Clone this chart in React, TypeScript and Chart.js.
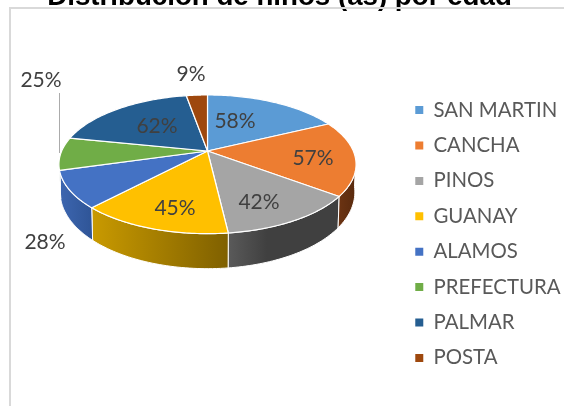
import React, { useEffect, useRef } from "react";
import { Chart, registerables } from "chart.js";

Chart.register(...registerables);

const categories = ["SAN MARTIN", "CANCHA", "PINOS", "GUANAY", "ALAMOS", "PREFECTURA", "PALMAR", "POSTA"];
const values = [58, 57, 42, 45, 28, 25, 62, 9];
const topColors = ["#5B9BD5", "#ED7D31", "#A5A5A5", "#FFC000", "#4472C4", "#70AD47", "#255E91", "#9E480E"];
const wallLeft = ["#3E74A6", "#6B3312", "#5A5A5A", "#C99A00", "#3D66B0", "#4F7D30", "#1C4770", "#6B300A"];
const wallRight = ["#2E5A85", "#592A0E", "#404040", "#7F6000", "#2F5597", "#3E6325", "#163858", "#542506"];
const labelAnchors: [number, number][] = [
  [235, 121], [313, 158], [259, 202], [175, 208], [45, 242], [41, 80], [157, 126], [191, 74],
];

const TITLE = "Distribución de niños (as) por edad";
const CX = 207.5, CY = 151, RX = 145.8, RY = 66.8, K = 0.192;

const project = (a: number, r = 1): [number, number] => {
  const c = Math.cos(a) * r, s = Math.sin(a) * r;
  const w = 1 - K * s;
  return [CX + (RX * c) / w, CY + (RY * s) / w];
};
const projectBase = (a: number): [number, number] => {
  const [x, y] = project(a);
  return [CX + (x - CX) * 0.992, y + 26 + 9 * Math.sin(a)];
};

const pie3d = {
  id: "pie3d",
  beforeDatasetDraw(chart: any) {
    const { ctx } = chart;
    const arcs = chart.getDatasetMeta(0).data;
    ctx.save();
    // frame
    ctx.strokeStyle = "#D9D9D9";
    ctx.lineWidth = 2;
    ctx.strokeRect(10, 8, 600, 500);
    // walls, from sides towards the front
    const order = arcs.map((_: any, i: number) => i);
    const visible = (a: number) => Math.sin(a) > 0.12;
    const leftSide = order.filter((i: number) => Math.cos((arcs[i].startAngle + arcs[i].endAngle) / 2) < 0);
    const rightSide = order.filter((i: number) => Math.cos((arcs[i].startAngle + arcs[i].endAngle) / 2) >= 0).reverse();
    const front = [...rightSide, ...leftSide];
    for (const i of front) {
      const el = arcs[i];
      const N = 40;
      const pts: number[] = [];
      for (let n = 0; n <= N; n++) {
        const a = el.startAngle + ((el.endAngle - el.startAngle) * n) / N;
        if (visible(a)) pts.push(a);
      }
      if (pts.length < 2) continue;
      ctx.beginPath();
      pts.forEach((a, n) => {
        const [x, y] = project(a);
        n ? ctx.lineTo(x, y) : ctx.moveTo(x, y);
      });
      [...pts].reverse().forEach((a) => {
        const [x, y] = projectBase(a);
        ctx.lineTo(x, y);
      });
      ctx.closePath();
      const xa = project(pts[0])[0], xb = project(pts[pts.length - 1])[0];
      const g = ctx.createLinearGradient(Math.min(xa, xb), 0, Math.max(xa, xb), 0);
      g.addColorStop(0, wallLeft[i]);
      g.addColorStop(i === 2 ? 0.35 : 1, wallRight[i]);
      g.addColorStop(1, wallRight[i]);
      ctx.fillStyle = g;
      ctx.fill();
      ctx.strokeStyle = "#FFFFFF";
      ctx.lineWidth = 1;
      ctx.lineJoin = "round";
      ctx.stroke();
    }
    // top faces
    for (const el of arcs) {
      const N = 60;
      ctx.beginPath();
      ctx.moveTo(CX, CY);
      for (let n = 0; n <= N; n++) {
        const a = el.startAngle + ((el.endAngle - el.startAngle) * n) / N;
        const [x, y] = project(a);
        ctx.lineTo(x, y);
      }
      ctx.closePath();
      ctx.fillStyle = el.options.backgroundColor;
      ctx.fill();
      ctx.strokeStyle = "#FFFFFF";
      ctx.lineWidth = 1.2;
      ctx.lineJoin = "round";
      ctx.stroke();
    }
    // leader line
    ctx.strokeStyle = "#ABABAB";
    ctx.lineWidth = 1;
    ctx.beginPath();
    ctx.moveTo(59.5, 93);
    ctx.lineTo(59.5, 153);
    ctx.stroke();
    // data labels
    ctx.fillStyle = "#404040";
    ctx.font = "21px Lato";
    ctx.textAlign = "center";
    ctx.textBaseline = "middle";
    values.forEach((v, i) => ctx.fillText(v + "%", labelAnchors[i][0], labelAnchors[i][1]));
    ctx.restore();
    return false;
  },
};

export default function App() {
  const ref = useRef<HTMLCanvasElement>(null);
  useEffect(() => {
    const chart = new Chart(ref.current!, {
      type: "pie",
      data: {
        labels: categories,
        datasets: [{ data: values, backgroundColor: topColors, borderWidth: 0 }],
      },
      options: {
        responsive: false,
        animation: false,
        layout: { padding: { left: -11.5, right: -6.5, top: 0, bottom: -62 } },
        plugins: {
          title: {
            display: true,
            text: TITLE,
            color: "#000000",
            font: { family: "Liberation Sans", size: 27.7, weight: "bold" },
            padding: { top: -19, bottom: 0 },
          },
          tooltip: { enabled: false },
          legend: {
            position: "right",
            labels: {
              boxWidth: 8,
              boxHeight: 8,
              color: "#595959",
              padding: 15,
              font: { family: "Lato", size: 20.4 },
            },
          },
        },
      },
      plugins: [pie3d],
    } as any);
    return () => chart.destroy();
  }, []);
  return (
    <canvas
      ref={ref}
      width={564}
      height={406}
      style={{ position: "fixed", left: 0, top: 0, width: 564, height: 406 }}
    />
  );
}
